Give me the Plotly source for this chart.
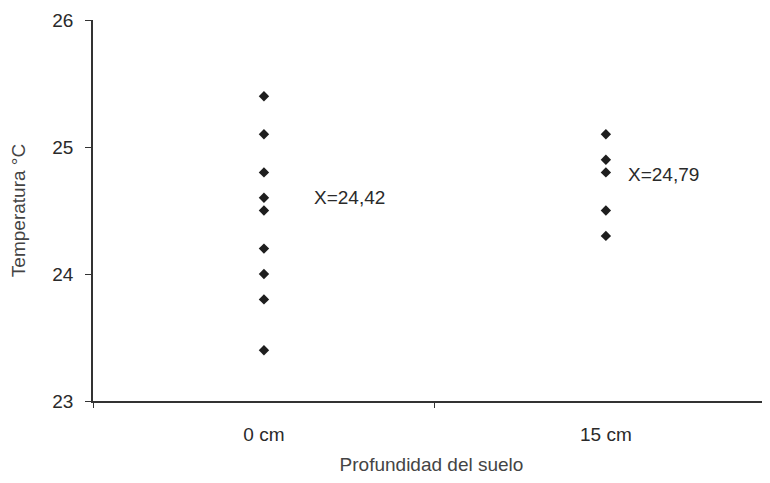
import plotly.graph_objects as go

categories = ["0 cm", "15 cm"]
temps_0cm = [25.4, 25.1, 24.8, 24.6, 24.5, 24.2, 24.0, 23.8, 23.4]
temps_15cm = [25.1, 24.9, 24.8, 24.5, 24.3]
mean_labels = ["X=24,42", "X=24,79"]
mean_label_y = [24.6, 24.78]
label_shift = [48, 20]
y_ticks = [23, 24, 25, 26]

font_family = "Liberation Sans, Arial, sans-serif"
fig = go.Figure()
for cat, vals in zip(categories, [temps_0cm, temps_15cm]):
    fig.add_trace(go.Scatter(
        x=[cat] * len(vals), y=vals, mode="markers",
        marker=dict(symbol="diamond", size=8, color="#1e1e1e"),
        showlegend=False, hoverinfo="y"))

for cat, txt, yy, sh in zip(categories, mean_labels, mean_label_y, label_shift):
    fig.add_annotation(x=cat, y=yy, text=txt, showarrow=False,
                       xanchor="left", yanchor="middle", xshift=sh,
                       font=dict(size=19, color="#2a2a2a", family=font_family))

fig.update_layout(
    width=762, height=467,
    margin=dict(l=85, r=0, t=12, b=74),
    paper_bgcolor="white", plot_bgcolor="white",
    font=dict(family=font_family, size=19, color="#2a2a2a"),
    xaxis=dict(type="category", categoryorder="array", categoryarray=categories,
               range=[-0.5, 1.48], showline=True, linecolor="#333", linewidth=1.5,
               ticks="outside", tickson="boundaries", ticklen=5, tickcolor="#333",
               showgrid=False, zeroline=False, automargin=False,
               ticklabelstandoff=15,
               title=dict(text="Profundidad del suelo", standoff=16,
                          font=dict(size=19, color="#444"))),
    yaxis=dict(range=[23, 26], tickvals=y_ticks, showline=True, linecolor="#333",
               linewidth=1.5, ticks="outside", ticklen=6, tickcolor="#333",
               showgrid=False, zeroline=False, automargin=False,
               ticklabelstandoff=8,
               title=dict(text="Temperatura °C", standoff=28,
                          font=dict(size=19, color="#444"))),
)
fig.write_html("out.html")
